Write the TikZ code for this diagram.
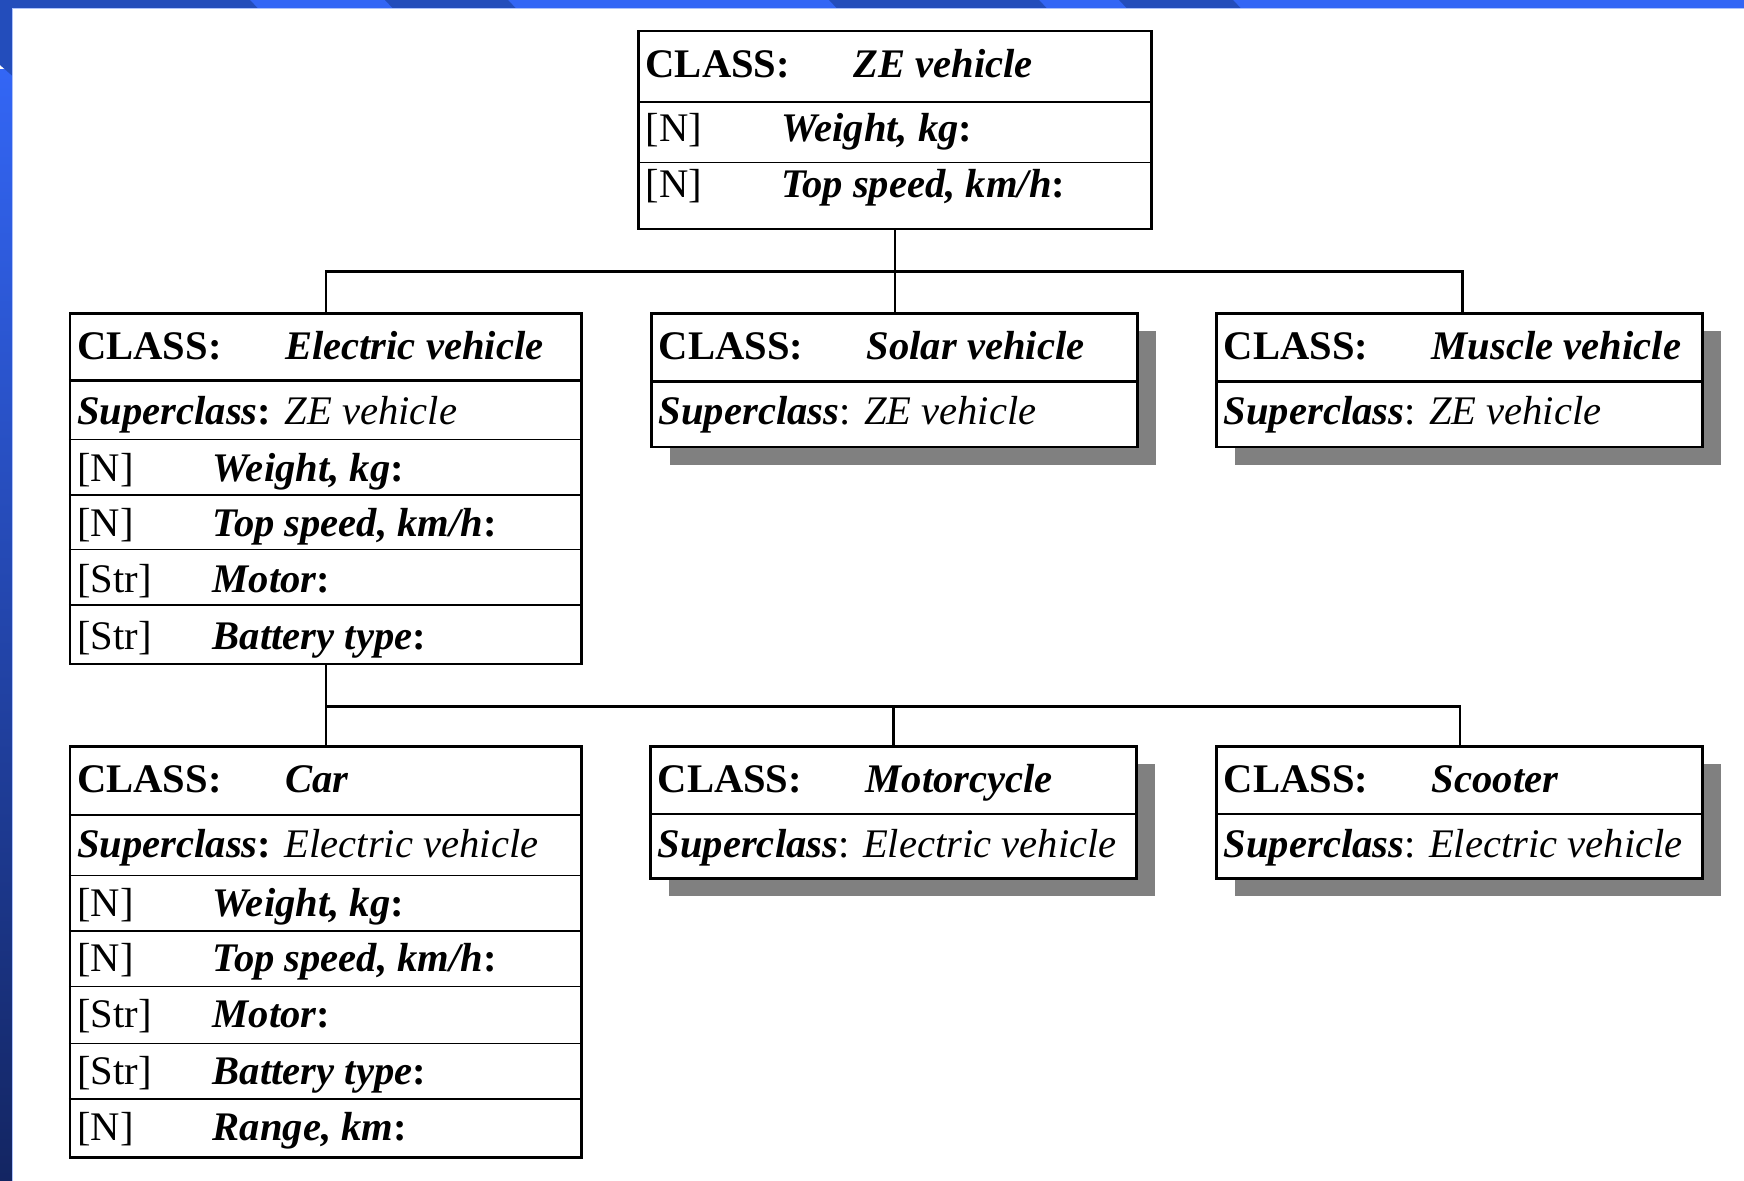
\documentclass[tikz,border=0pt]{standalone}
\usepackage{fontspec}
\setmainfont{Liberation Serif}
\usetikzlibrary{calc, fit, shadows}

\definecolor{barblue}{HTML}{3366F5}
\definecolor{bardark}{HTML}{234DBB}
\definecolor{barmid}{HTML}{2A4CC2}
\definecolor{barnavy}{HTML}{132562}
\definecolor{shadowgray}{HTML}{808080}

\newcommand{\clsname}[1]{\textbf{\textit{#1}}}
\newcommand{\attrname}[1]{\textbf{\textit{#1}:}}

\tikzset{
  classbox/.style={draw, line width=1.35pt, fill=white, inner sep=0pt},
  shadowed/.style={drop shadow={shadow xshift=9.3pt, shadow yshift=-8.9pt, fill=shadowgray, opacity=1}},
  headline/.style={line width=1.2pt},
  rowline/.style={line width=0.65pt},
  link/.style={line width=1.25pt},
  cell/.style={anchor=base west, inner sep=0pt, font=\fontsize{20.3}{24}\selectfont},
}

\begin{document}
\begin{tikzpicture}[x=0.5pt, y=-0.5pt]
\useasboundingbox (0,0) rectangle (1744,1181);
% slide frame
\fill[white] (0,0) rectangle (1744,1181);
\fill[barblue] (0,0) rectangle (1744,8.5);
\foreach \a/\b in {0/250, 385/508, 829/1039, 1119/1233}
  \fill[bardark] (\a,0) -- (\b,0) -- (\b+8,8.5) -- (\a+8,8.5) -- cycle;
\shade[top color=barblue, middle color=barmid, bottom color=barnavy] (0,70) rectangle (12.5,1181);
\fill[bardark] (0,0) -- (12.5,0) -- (12.5,76) -- (0,65) -- cycle;
\draw[line width=0.5pt, white!60!barblue] (12.5,1181) -- (12.5,8.8) -- (1744,8.8);

% ZE vehicle
\node[classbox, fit={(638.5,31.1) (1151.5,229.1)}] (ze) {};
\draw[headline] (ze.west |- 0,102.3) -- (ze.east |- 0,102.3);
\draw[rowline] (ze.west |- 0,162.4) -- (ze.east |- 0,162.4);
\node[cell] (ze-cls) at (645.2,77.5) {\textbf{CLASS:}};
\node[cell] (ze-name) at (853.2,77.5) {\clsname{ZE vehicle}};
\foreach \y/\typ/\att [count=\i] in {142/{[N]}/{Weight, kg}, 197.5/{[N]}/{Top speed, km/h}} {
  \node[cell] (ze-t\i) at (645.2,\y) {\typ};
  \node[cell] (ze-a\i) at (780.9,\y) {\attrname{\att}};
}

% Electric vehicle
\node[classbox, fit={(70.1,313.6) (581.7,664)}] (ev) {};
\draw[headline] (ev.west |- 0,380.4) -- (ev.east |- 0,380.4);
\foreach \y in {439.3,494.9,549.4,605}
  \draw[rowline] (ev.west |- 0,\y) -- (ev.east |- 0,\y);
\node[cell] (ev-cls) at (76.8,360) {\textbf{CLASS:}};
\node[cell] (ev-name) at (284.8,360) {\clsname{Electric vehicle}};
\node[cell] (ev-sup) at (76.8,425) {\textbf{\textit{Superclass}:} \textit{ZE vehicle}};
\foreach \y/\typ/\att [count=\i] in {482/{[N]}/{Weight, kg}, 536.5/{[N]}/{Top speed, km/h}, 592/{[Str]}/{Motor}, 649.5/{[Str]}/{Battery type}} {
  \node[cell] (ev-t\i) at (76.8,\y) {\typ};
  \node[cell] (ev-a\i) at (212.5,\y) {\attrname{\att}};
}

% Solar vehicle
\node[classbox, shadowed, fit={(651.7,313.6) (1137.8,447.1)}] (sv) {};
\draw[headline] (sv.west |- 0,381.5) -- (sv.east |- 0,381.5);
\node[cell] (sv-cls) at (658.4,360) {\textbf{CLASS:}};
\node[cell] (sv-name) at (866.4,360) {\clsname{Solar vehicle}};
\node[cell] (sv-sup) at (658.4,425) {\clsname{Superclass}: \textit{ZE vehicle}};

% Muscle vehicle
\node[classbox, shadowed, fit={(1216.7,313.6) (1702.8,447.1)}] (mv) {};
\draw[headline] (mv.west |- 0,381.5) -- (mv.east |- 0,381.5);
\node[cell] (mv-cls) at (1223.4,360) {\textbf{CLASS:}};
\node[cell] (mv-name) at (1431.4,360) {\clsname{Muscle vehicle}};
\node[cell] (mv-sup) at (1223.4,425) {\clsname{Superclass}: \textit{ZE vehicle}};

% Car
\node[classbox, fit={(70.1,746.3) (581.7,1157.8)}] (car) {};
\draw[headline] (car.west |- 0,815.2) -- (car.east |- 0,815.2);
\foreach \y in {875.3,930.9,986.5,1043.2,1098.9}
  \draw[rowline] (car.west |- 0,\y) -- (car.east |- 0,\y);
\node[cell] (car-cls) at (76.8,792.5) {\textbf{CLASS:}};
\node[cell] (car-name) at (284.8,792.5) {\clsname{Car}};
\node[cell] (car-sup) at (76.8,857) {\textbf{\textit{Superclass}:} \textit{Electric vehicle}};
\foreach \y/\typ/\att [count=\i] in {916.3/{[N]}/{Weight, kg}, 971.9/{[N]}/{Top speed, km/h}, 1027.5/{[Str]}/{Motor}, 1084.2/{[Str]}/{Battery type}, 1140/{[N]}/{Range, km}} {
  \node[cell] (car-t\i) at (76.8,\y) {\typ};
  \node[cell] (car-a\i) at (212.5,\y) {\attrname{\att}};
}

% Motorcycle
\node[classbox, shadowed, fit={(650.6,746.3) (1136.7,878.6)}] (mc) {};
\draw[headline] (mc.west |- 0,814.1) -- (mc.east |- 0,814.1);
\node[cell] (mc-cls) at (657.3,792.5) {\textbf{CLASS:}};
\node[cell] (mc-name) at (865.3,792.5) {\clsname{Motorcycle}};
\node[cell] (mc-sup) at (657.3,857) {\clsname{Superclass}: \textit{Electric vehicle}};

% Scooter
\node[classbox, shadowed, fit={(1216.7,746.3) (1702.8,878.6)}] (sc) {};
\draw[headline] (sc.west |- 0,814.1) -- (sc.east |- 0,814.1);
\node[cell] (sc-cls) at (1223.4,792.5) {\textbf{CLASS:}};
\node[cell] (sc-name) at (1431.4,792.5) {\clsname{Scooter}};
\node[cell] (sc-sup) at (1223.4,857) {\clsname{Superclass}: \textit{Electric vehicle}};

% inheritance links
\coordinate (bus1) at (ze.south |- 0,271.4);
\draw[link] (ze.south) -- (ze.south |- sv.north);
\draw[link] (ev.north) |- (bus1) -| ($(mv.north)+(2.7,0)$);
\coordinate (bus2) at ($(ev.south)+(0,41.1)$);
\draw[link] (ev.south) -- (car.north);
\draw[link] (bus2) -| (mc.north);
\draw[link] (bus2) -| (sc.north);
\end{tikzpicture}
\end{document}
